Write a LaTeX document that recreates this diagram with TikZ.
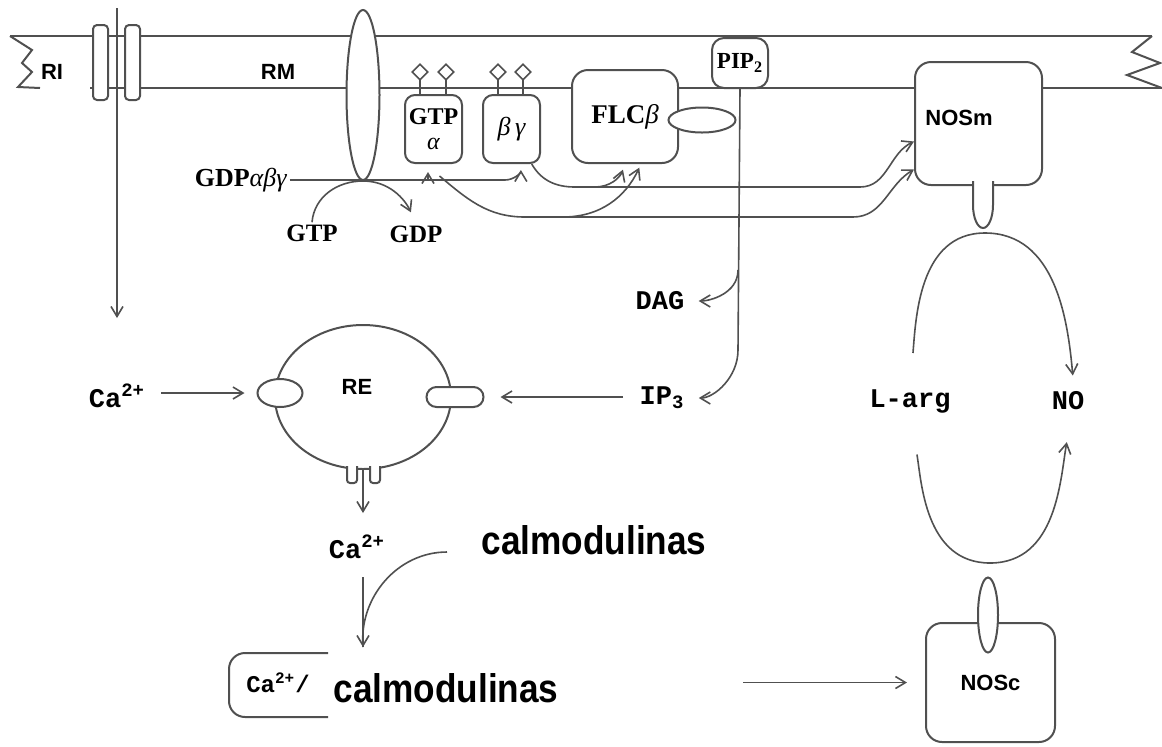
\documentclass[tikz,border=0pt]{standalone}
\usepackage{fontspec}
\setmainfont{Liberation Serif}
\setmonofont{Liberation Mono}
\newfontfamily\arialfont{Liberation Sans}
\usepackage{tikz}
\usetikzlibrary{
  arrows.meta,
  shapes.geometric,
  positioning
}
\definecolor{lingray}{RGB}{80,80,80}
\tikzset{
  memline/.style={draw=lingray, line width=1pt},
  wire/.style={draw=lingray, line width=0.8pt},
  arr/.style={wire, -{Straight Barb[length=5pt,width=6pt]}},
  gbox/.style={
    rectangle, draw=lingray, line width=1pt, fill=white,
    rounded corners=5pt, inner sep=1pt, align=center,
    font=\bfseries\fontsize{12}{13.5}\selectfont
  },
  oval/.style={ellipse, draw=lingray, line width=1pt, fill=white, inner sep=0pt},
  lolli/.style={diamond, draw=lingray, line width=0.8pt, fill=white, inner sep=0pt, minimum size=8pt},
  arlab/.style={font=\arialfont\bfseries\fontsize{11}{13}\selectfont, inner sep=1pt},
  monolab/.style={font=\ttfamily\bfseries\fontsize{13.5}{15}\selectfont, inner sep=1pt},
  seriflab/.style={font=\bfseries\fontsize{12.5}{14}\selectfont, inner sep=1pt},
  biglab/.style={font=\arialfont\bfseries\fontsize{20}{22}\selectfont, inner sep=0pt},
}

\begin{document}
\begin{tikzpicture}[x=0.5pt, y=-0.5pt]
  \useasboundingbox (0,0) rectangle (1162,746);

  %% ── Membrane ──
  \draw[memline] (10,36) -- (1152,36);
  \draw[memline] (90,88) -- (1162,88);
  \draw[memline] (10,36) -- (32,50) -- (22,63) -- (32,72) -- (18,87) -- (40,88);
  \draw[memline] (1152,36) -- (1132,52) -- (1160,63) -- (1127,75) -- (1162,88);

  %% ── Ion channel (RI) ──
  \draw[memline, fill=white, rounded corners=2pt] (93,25) rectangle (108,100);
  \draw[memline, fill=white, rounded corners=2pt] (125,25) rectangle (140,100);
  \coordinate (ritop) at (117,8);
  \coordinate (ritip) at (117,318);
  \draw[arr] (ritop) -- (ritip);
  \node[arlab] (ri) at (52,72) {RI};
  \node[arlab] (rm) at (278,72) {RM};

  %% ── Receptor and G protein ──
  \node[oval, minimum width=16.5pt, minimum height=85pt] (rec) at (363,95) {};
  \foreach \x in {420,446,498,523} {
    \draw[wire] (\x,80) -- (\x,95);
    \node[lolli] at (\x,72) {};
  }
  \node[gbox, minimum width=28.5pt, minimum height=34pt] (gtpa) at (433.5,129)
    {GTP\\[-1pt]\textit{\mdseries α}};
  \node[gbox, minimum width=28.5pt, minimum height=34pt,
    font=\itshape\fontsize{13}{15}\selectfont] (bg) at (511.5,129) {β\,γ};

  %% ── FLC and PIP2 ──
  \node[gbox, minimum width=53pt, minimum height=46.5pt, rounded corners=8pt,
    font=\bfseries\fontsize{13.5}{15}\selectfont] (flc) at (625,116.5)
    {FLC\textit{\mdseries β}};
  \node[oval, minimum width=33.5pt, minimum height=12.5pt] (flcoval) at (702,120) {};
  \node[gbox, minimum width=28pt, minimum height=25pt, rounded corners=6pt,
    font=\bfseries\fontsize{11.5}{13}\selectfont] (pip) at (740,63)
    {PIP\textsubscript{2}};

  %% ── NOSm ──
  \node[gbox, minimum width=63.5pt, minimum height=61.5pt, rounded corners=8pt] (nosm) at (978.5,123.5) {};
  \node[arlab, anchor=west] (nosmtxt) at (923,118) {NOSm};
  \draw[memline, fill=white] (973,181) -- (973,205)
    arc[start angle=180, end angle=360, x radius=5pt, y radius=11.5pt] -- (993,181);

  %% ── Labels ──
  \node[font=\bfseries\fontsize{13}{15}\selectfont, inner sep=1pt] (gdpabg) at (241,180)
    {GDP\textit{\mdseries αβγ}};
  \node[seriflab] (gtp) at (312,233) {GTP};
  \node[seriflab] (gdp) at (416,234) {GDP};
  \node[monolab] (dag) at (660,301) {DAG};
  \node[monolab] (ip3) at (662,398) {IP\textsubscript{3}};
  \node[monolab] (caleft) at (117,396) {Ca\textsuperscript{2+}};
  \node[monolab] (camid) at (357,547) {Ca\textsuperscript{2+}};
  \node[monolab] (larg) at (910,401) {L-arg};
  \node[monolab] (no) at (1068,401) {NO};

  %% ── Endoplasmic reticulum ──
  \node[oval, minimum width=88pt, minimum height=72pt, fill=none] (er) at (363,397) {};
  \node[arlab] (re) at (357,387) {RE};
  \node[oval, minimum width=22.5pt, minimum height=14pt] (erin) at (280,393) {};
  \node[rectangle, draw=lingray, line width=1pt, fill=white, rounded corners=5pt,
    minimum width=28.5pt, minimum height=10pt, inner sep=0pt] (erpill) at (455,397) {};
  \draw[memline, fill=white, rounded corners=1.5pt] (347,466) -- (347,483) -- (357,483) -- (357,466);
  \draw[memline, fill=white, rounded corners=1.5pt] (370,466) -- (370,483) -- (380,483) -- (380,466);

  %% ── Calmodulin ──
  \node[biglab] (calm1) at (594,540) {\scalebox{0.88}[1]{calmodulinas}};
  \node[biglab] (calm2) at (446,688) {\scalebox{0.88}[1]{calmodulinas}};
  \draw[memline, rounded corners=8pt] (328,653) -- (229,653) -- (229,717) -- (328,717);
  \node[monolab, font=\ttfamily\bfseries\fontsize{12}{14}\selectfont] (cabox) at (278,683)
    {Ca\textsuperscript{2+}/};

  %% ── NOSc ──
  \node[gbox, minimum width=64.5pt, minimum height=59.5pt, rounded corners=8pt,
    font=\arialfont\bfseries\fontsize{11}{13}\selectfont] (nosc) at (990.5,682.5) {NOSc};
  \node[oval, minimum width=10pt, minimum height=37.5pt] (noscfoot) at (988,615) {};

  %% ── Arrows: G protein ──
  \coordinate (j0) at (428,180);
  \coordinate (j1) at (505,180);
  \draw[wire] (gdpabg.east) -- (j1);
  \draw[arr, shorten >=3pt] (j1) to[out=0, in=-90] (bg.-75);
  \draw[arr, shorten >=4pt] (j0) -- (j0 |- gtpa.south);
  \draw[arr, shorten >=6pt] (gtp.north) to[out=85, in=180] (rec.south)
    to[out=0, in=115] (gdp.north);

  %% ── Arrows: to FLC and NOSm ──
  \coordinate (b1) at (595,187);
  \coordinate (b2) at (563,217);
  \draw[arr] (bg.-60) to[out=-60, in=180] (575,187) -- (860,187)
    to[out=0, in=205] ([yshift=-9pt]nosm.west);
  \draw[arr, shorten >=3pt] (b1) to[out=0, in=-110] (flc.south);
  \draw[arr] ([xshift=3pt, yshift=-6pt]gtpa.south) to[out=-40, in=180] (525,217) -- (853,217)
    to[out=0, in=210] ([yshift=-23pt]nosm.west);
  \draw[arr, shorten >=2pt] (b2) to[out=0, in=-115] ([xshift=8pt]flc.south);

  %% ── Arrows: PIP2 ──
  \coordinate (p1) at (738,270);
  \draw[arr, shorten >=6pt] (pip.south) -- (738,350) to[out=-90, in=0] (ip3.east);
  \draw[arr, shorten >=6pt] (p1) to[out=-90, in=0] (dag.east);
  \draw[arr, shorten <=7pt, shorten >=8pt] (ip3.west |- erpill.east) -- (erpill.east);
  \draw[arr, shorten <=7pt, shorten >=6pt] (caleft.east |- erin.west) -- (erin.west);

  %% ── Arrows: calcium ──
  \coordinate (chan) at (363,468);
  \coordinate (chtip) at (363,513);
  \coordinate (cmtip) at (363,647);
  \coordinate (cm0) at (447,552);
  \coordinate (cm2) at (743,682.5);
  \draw[arr] (chan) -- (chtip);
  \draw[arr, shorten <=8pt] (camid.south -| chan) -- (cmtip);
  \draw[wire] (cm0) to[out=180, in=95] (cmtip);
  \draw[arr, shorten >=9pt] (cm2) -- (nosc.west);

  %% ── NO cycle ──
  \coordinate (ltop) at (985,233);
  \coordinate (lbot) at (990,563);
  \draw[arr, shorten <=17pt, shorten >=7pt] (larg.north) to[out=85, in=180] (ltop)
    to[out=0, in=95] ([xshift=3pt]no.north);
  \draw[arr, shorten <=20pt, shorten >=15pt] (larg.south) to[out=-80, in=180] (lbot)
    to[out=0, in=-100] ([xshift=2pt]no.south);
\end{tikzpicture}
\end{document}
